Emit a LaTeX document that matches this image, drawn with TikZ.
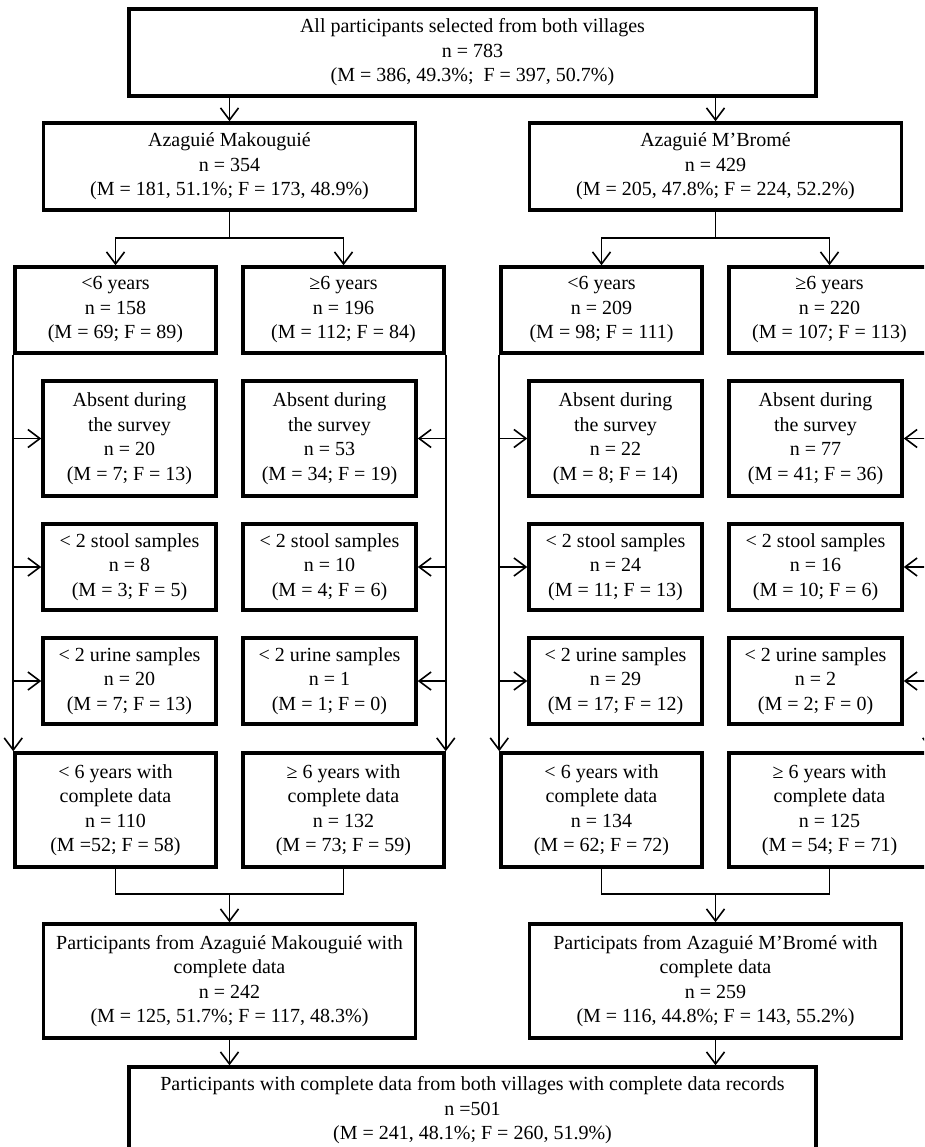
\documentclass[tikz,border=0pt]{standalone}
\usepackage{fontspec}
\setmainfont{Liberation Serif}
\usetikzlibrary{arrows.meta}

\begin{document}
\begin{tikzpicture}[
    x=1pt, y=-1pt,
    box/.style={rectangle, draw, line width=3.5pt, align=center, inner sep=0pt,
        font=\fontsize{20}{24.5}\selectfont},
    widebox/.style={box, minimum width=687pt, minimum height=87pt},
    village/.style={box, minimum width=372pt, minimum height=87pt},
    agebox/.style={box, minimum width=201pt, minimum height=86pt},
    lossbox/.style={box, minimum width=173pt, minimum height=86pt},
    absbox/.style={box, minimum width=173pt, minimum height=115pt},
    donebox/.style={box, minimum width=201pt, minimum height=114pt},
    sumbox/.style={box, minimum width=372pt, minimum height=114pt},
    edge/.style={line width=1.6pt, -},
    arrow/.style={edge, -{Straight Barb[length=12pt, width=18pt]}}
]
\useasboundingbox (0,0) rectangle (924,1147);
\clip (0,0) rectangle (924,1147);

% Define boxes
\node[widebox] (all) at (472.5,52.5) {All participants selected from both villages\\n = 783\\(M = 386, 49.3\%;\ \ F = 397, 50.7\%)};
\node[village] (mak) at (229.5,166.5) {Azaguié Makouguié\\n = 354\\(M = 181, 51.1\%; F = 173, 48.9\%)};
\node[village] (mbr) at (715.5,166.5) {Azaguié M’Bromé\\n = 429\\(M = 205, 47.8\%; F = 224, 52.2\%)};

\node[agebox] (mk1) at (115.5,310) {<6 years\\n = 158\\(M = 69; F = 89)};
\node[agebox] (mk2) at (343.5,310) {≥6 years\\n = 196\\(M = 112; F = 84)};
\node[agebox] (br1) at (601.5,310) {<6 years\\n = 209\\(M = 98; F = 111)};
\node[agebox] (br2) at (829.5,310) {≥6 years\\n = 220\\(M = 107; F = 113)};

\node[absbox] (ma1) at (129.5,438.5) {Absent during\\the survey\\n = 20\\(M = 7; F = 13)};
\node[absbox] (ma2) at (329.5,438.5) {Absent during\\the survey\\n = 53\\(M = 34; F = 19)};
\node[absbox] (ba1) at (615.5,438.5) {Absent during\\the survey\\n = 22\\(M = 8; F = 14)};
\node[absbox] (ba2) at (815.5,438.5) {Absent during\\the survey\\n = 77\\(M = 41; F = 36)};

\node[lossbox] (ms1) at (129.5,567) {< 2 stool samples\\n = 8\\(M = 3; F = 5)};
\node[lossbox] (ms2) at (329.5,567) {< 2 stool samples\\n = 10\\(M = 4; F = 6)};
\node[lossbox] (bs1) at (615.5,567) {< 2 stool samples\\n = 24\\(M = 11; F = 13)};
\node[lossbox] (bs2) at (815.5,567) {< 2 stool samples\\n = 16\\(M = 10; F = 6)};

\node[lossbox] (mu1) at (129.5,681) {< 2 urine samples\\n = 20\\(M = 7; F = 13)};
\node[lossbox] (mu2) at (329.5,681) {< 2 urine samples\\n = 1\\(M = 1; F = 0)};
\node[lossbox] (bu1) at (615.5,681) {< 2 urine samples\\n = 29\\(M = 17; F = 12)};
\node[lossbox] (bu2) at (815.5,681) {< 2 urine samples\\n = 2\\(M = 2; F = 0)};

\node[donebox] (mc1) at (115.5,810) {< 6 years with\\complete data\\n = 110\\(M =52; F = 58)};
\node[donebox] (mc2) at (343.5,810) {≥ 6 years with\\complete data\\n = 132\\(M = 73; F = 59)};
\node[donebox] (bc1) at (601.5,810) {< 6 years with\\complete data\\n = 134\\(M = 62; F = 72)};
\node[donebox] (bc2) at (829.5,810) {≥ 6 years with\\complete data\\n = 125\\(M = 54; F = 71)};

\node[sumbox] (pmk) at (229.5,981) {Participants from Azaguié Makouguié with\\complete data\\n = 242\\(M = 125, 51.7\%; F = 117, 48.3\%)};
\node[sumbox] (pbr) at (715.5,981) {Participats from Azaguié M’Bromé with\\complete data\\n = 259\\(M = 116, 44.8\%; F = 143, 55.2\%)};
\node[widebox] (both) at (472.5,1110.5) {Participants with complete data from both villages with complete data records\\n =501\\(M = 241, 48.1\%; F = 260, 51.9\%)};

% Define split and join points
\coordinate (msplit) at (229.5,238);
\coordinate (bsplit) at (715.5,238);
\coordinate (mjoin) at (229.5,894);
\coordinate (bjoin) at (715.5,894);

% Define edges
\draw[arrow] (all.south -| mak.north) -- (mak.north);
\draw[arrow] (all.south -| mbr.north) -- (mbr.north);
\draw[edge] (mak.south) -- (msplit);
\draw[edge] (mbr.south) -- (bsplit);
\draw[arrow] (msplit) -| (mk1.north);
\draw[arrow] (msplit) -| (mk2.north);
\draw[arrow] (bsplit) -| (br1.north);
\draw[arrow] (bsplit) -| (br2.north);

\draw[arrow] (mk1.south west) -- (mc1.north west);
\draw[arrow] (mk2.south east) -- (mc2.north east);
\draw[arrow] (br1.south west) -- (bc1.north west);
\draw[arrow] (br2.south east) -- (bc2.north east);

\draw[arrow] (mk1.south west |- ma1.west) -- (ma1.west);
\draw[arrow] (mk1.south west |- ms1.west) -- (ms1.west);
\draw[arrow] (mk1.south west |- mu1.west) -- (mu1.west);
\draw[arrow] (mk2.south east |- ma2.east) -- (ma2.east);
\draw[arrow] (mk2.south east |- ms2.east) -- (ms2.east);
\draw[arrow] (mk2.south east |- mu2.east) -- (mu2.east);
\draw[arrow] (br1.south west |- ba1.west) -- (ba1.west);
\draw[arrow] (br1.south west |- bs1.west) -- (bs1.west);
\draw[arrow] (br1.south west |- bu1.west) -- (bu1.west);
\draw[arrow] (br2.south east |- ba2.east) -- (ba2.east);
\draw[arrow] (br2.south east |- bs2.east) -- (bs2.east);
\draw[arrow] (br2.south east |- bu2.east) -- (bu2.east);

\draw[edge] (mc1.south) |- (mjoin) -| (mc2.south);
\draw[edge] (bc1.south) |- (bjoin) -| (bc2.south);
\draw[arrow] (mjoin) -- (pmk.north);
\draw[arrow] (bjoin) -- (pbr.north);
\draw[arrow] (pmk.south) -- (pmk.south |- both.north);
\draw[arrow] (pbr.south) -- (pbr.south |- both.north);

\end{tikzpicture}
\end{document}
